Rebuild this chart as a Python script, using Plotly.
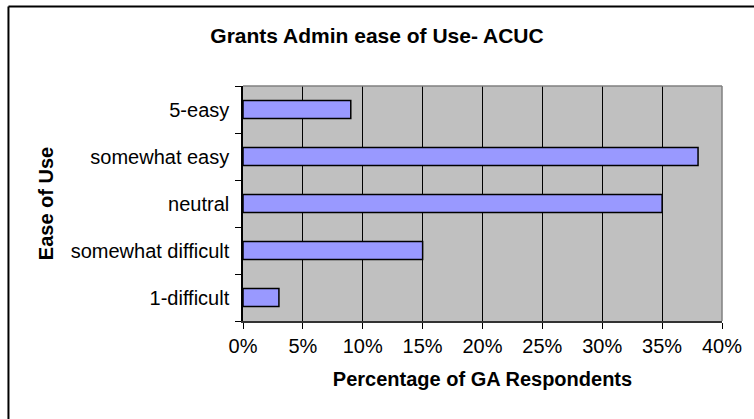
import plotly.graph_objects as go

# Ease of use categories (bottom to top) and share of GA respondents
categories = ["1-difficult", "somewhat difficult", "neutral", "somewhat easy", "5-easy"]
percentages = [0.03, 0.15, 0.35, 0.38, 0.09]
x_ticks = [0, 0.05, 0.10, 0.15, 0.20, 0.25, 0.30, 0.35, 0.40]
x_tick_labels = ["0%", "5%", "10%", "15%", "20%", "25%", "30%", "35%", "40%"]

fig = go.Figure()
fig.add_trace(go.Bar(
    x=percentages,
    y=categories,
    orientation="h",
    marker=dict(color="#9999FF", line=dict(color="black", width=1.5)),
))

fig.update_layout(
    width=754,
    height=419,
    margin=dict(l=243, r=28, t=86, b=98),
    paper_bgcolor="white",
    plot_bgcolor="#C0C0C0",
    font=dict(family="Liberation Sans, Arial", size=20, color="black"),
    title=dict(
        text="<b>Grants Admin ease of Use- ACUC</b>",
        x=0.5, xanchor="center", y=0.915, yanchor="middle",
        font=dict(size=21),
    ),
    bargap=0.617,
    showlegend=False,
)

fig.update_xaxes(
    range=[0, 0.40],
    tickvals=x_ticks,
    ticktext=x_tick_labels,
    showgrid=True, gridcolor="black", gridwidth=1,
    showline=True, linecolor="#333333", linewidth=1.5,
    ticks="outside", ticklen=6, tickcolor="black",
    title=dict(text="<b>Percentage of GA Respondents</b>", standoff=16, font=dict(size=20)),
    zeroline=False,
)

fig.update_yaxes(
    categoryorder="array",
    categoryarray=categories,
    showline=True, linecolor="black", linewidth=1.5,
    ticks="outside", ticklen=6, tickcolor="black",
    tickson="boundaries",
    ticklabelstandoff=8,
    title=dict(text="<b>Ease of Use</b>", standoff=12, font=dict(size=20)),
    showgrid=False,
)

# gray border on top and right of plot area
fig.add_shape(type="line", xref="paper", yref="paper", x0=0, x1=1, y0=1, y1=1,
              line=dict(color="#808080", width=1.5))
fig.add_shape(type="line", xref="paper", yref="paper", x0=1, x1=1, y0=0, y1=1,
              line=dict(color="#808080", width=1.5))
# outer chart border: only the left and top edges fall inside the picture
fig.add_shape(type="line", xref="paper", yref="paper",
              x0=(6.5 - 243) / 483, x1=(6.5 - 243) / 483,
              y0=(321 - 440) / 235, y1=(321 - 6.5) / 235,
              line=dict(color="black", width=2))
fig.add_shape(type="line", xref="paper", yref="paper",
              x0=(6.5 - 243) / 483, x1=(780 - 243) / 483,
              y0=(321 - 6.5) / 235, y1=(321 - 6.5) / 235,
              line=dict(color="black", width=2))

fig.write_html(
    "out.html",
    config={"displayModeBar": False},
    post_script="document.body.style.margin='0px';",
)
